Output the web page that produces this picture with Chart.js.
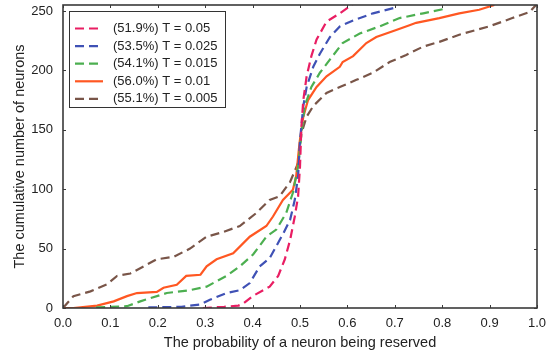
<!DOCTYPE html>
<html lang="en">
<head>
<meta charset="UTF-8">
<title>Cumulative number of neurons</title>
<script src="https://cdn.jsdelivr.net/npm/chart.js"></script>
<style>
  html, body { margin: 0; padding: 0; background: #fff; }
  #wrap { width: 547px; height: 352px; position: relative; }
</style>
</head>
<body>
<div id="wrap"><canvas id="cdfChart"></canvas></div>
<script>
// series labels and colours
const seriesLabels = ['(51.9%) T = 0.05', '(53.5%) T = 0.025', '(54.1%) T = 0.015', '(56.0%) T = 0.01', '(55.1%) T = 0.005'];
const seriesColors = ['#e91e63', '#3f51b5', '#4caf50', '#ff5722', '#795548'];
const seriesDashed = [true, true, true, false, true];

// probability (x) and cumulative count (y)
const probT005 = [0.295, 0.34, 0.37, 0.38, 0.40, 0.436, 0.454, 0.468, 0.479, 0.489, 0.496, 0.50, 0.503, 0.507, 0.514, 0.524, 0.535, 0.556, 0.584, 0.612];
const countT005 = [0, 1, 2, 3.6, 10, 18, 27, 41, 57, 77, 94, 119, 153, 175, 195, 212, 226, 241, 248, 256];

const probT0025 = [0.18, 0.25, 0.29, 0.31, 0.345, 0.373, 0.394, 0.415, 0.436, 0.45, 0.465, 0.479, 0.489, 0.496, 0.50, 0.507, 0.514, 0.528, 0.542, 0.563, 0.584, 0.612, 0.654, 0.703];
const countT0025 = [0.5, 1, 3, 7, 12.6, 15, 21, 35, 42, 52, 63, 74, 91, 111, 141, 170, 186, 203, 214, 228, 237, 242, 248, 253];

const probT0015 = [0.07, 0.135, 0.163, 0.219, 0.268, 0.303, 0.345, 0.373, 0.401, 0.429, 0.45, 0.471, 0.485, 0.496, 0.503, 0.51, 0.524, 0.542, 0.563, 0.59, 0.626, 0.668, 0.71, 0.76, 0.808];
const countT0015 = [0.5, 1.5, 5.6, 12.6, 15, 18, 27, 35, 45, 60, 66, 80, 97, 119, 147, 170, 186, 198, 209, 223, 231, 237, 244, 248, 252];

const probT001 = [0.0, 0.022, 0.072, 0.107, 0.135, 0.156, 0.198, 0.212, 0.24, 0.26, 0.29, 0.303, 0.324, 0.359, 0.394, 0.429, 0.443, 0.464, 0.485, 0.492, 0.499, 0.507, 0.517, 0.535, 0.556, 0.584, 0.59, 0.612, 0.64, 0.661, 0.703, 0.731, 0.745, 0.794, 0.836, 0.878, 0.91];
const countT001 = [0, 0, 2, 5.6, 10, 12.6, 13.5, 17, 19.6, 27, 28, 35, 41, 46, 60, 69, 77, 91, 99.5, 111, 139, 161, 175, 186, 195, 203, 207, 212, 223, 228, 234, 238, 240, 244, 248, 251, 255];

const probT0005 = [0.0, 0.022, 0.058, 0.093, 0.114, 0.142, 0.17, 0.198, 0.233, 0.268, 0.303, 0.338, 0.373, 0.408, 0.436, 0.457, 0.479, 0.496, 0.503, 0.514, 0.528, 0.556, 0.584, 0.619, 0.654, 0.689, 0.724, 0.76, 0.794, 0.836, 0.899, 0.948, 0.984, 0.998];
const countT0005 = [0, 10, 14, 20, 27, 29, 35, 41, 43, 50, 60, 64, 69, 80, 91, 94, 106, 122, 147, 161, 170, 181, 186, 192, 198, 207, 213, 220, 224, 230, 237, 244, 249, 255];

// axis ticks
const xTicks = [0.0, 0.1, 0.2, 0.3, 0.4, 0.5, 0.6, 0.7, 0.8, 0.9, 1.0];
const yTicks = [0, 50, 100, 150, 200, 250];

const probs = [probT005, probT0025, probT0015, probT001, probT0005];
const counts = [countT005, countT0025, countT0015, countT001, countT0005];

const FONT = '"Liberation Sans", Arial, sans-serif';
const FRAME = '#3a3a3a';

const datasets = seriesLabels.map((label, i) => ({
  label: label,
  data: probs[i].map((p, j) => ({ x: p, y: counts[i][j] })),
  borderColor: seriesColors[i],
  borderWidth: 2.2,
  borderDash: seriesDashed[i] ? [9, 5] : [],
  pointRadius: 0,
  tension: 0,
  fill: false
}));

// frame, inward ticks and boxed legend
const framePlugin = {
  id: 'framePlugin',
  afterDraw(chart) {
    const { ctx, chartArea: a, scales } = chart;
    ctx.save();
    ctx.strokeStyle = FRAME;
    ctx.lineWidth = 1;
    xTicks.forEach(v => {
      const px = Math.round(scales.x.getPixelForValue(v)) + 0.5;
      ctx.beginPath();
      ctx.moveTo(px, a.top); ctx.lineTo(px, a.top + 3);
      ctx.moveTo(px, a.bottom); ctx.lineTo(px, a.bottom - 3);
      ctx.stroke();
    });
    yTicks.forEach(v => {
      const py = Math.round(scales.y.getPixelForValue(v)) + 0.5;
      ctx.beginPath();
      ctx.moveTo(a.left, py); ctx.lineTo(a.left + 3, py);
      ctx.moveTo(a.right, py); ctx.lineTo(a.right - 3, py);
      ctx.stroke();
    });
    ctx.lineWidth = 1.6;
    ctx.strokeRect(a.left, a.top, a.right - a.left, a.bottom - a.top);

    // legend
    const lx = a.left + 6, ly = a.top + 6, lw = 156, lh = 96;
    ctx.fillStyle = '#fff';
    ctx.fillRect(lx, ly, lw, lh);
    ctx.strokeStyle = '#333';
    ctx.lineWidth = 1;
    ctx.strokeRect(lx + 0.5, ly + 0.5, lw, lh);
    ctx.font = '13px ' + FONT;
    ctx.textBaseline = 'middle';
    chart.data.datasets.forEach((ds, i) => {
      const y = ly + 17.5 + i * 17.6;
      ctx.beginPath();
      ctx.strokeStyle = ds.borderColor;
      ctx.lineWidth = 2.2;
      ctx.setLineDash(ds.borderDash);
      ctx.moveTo(lx + 6, y);
      ctx.lineTo(lx + 34, y);
      ctx.stroke();
      ctx.setLineDash([]);
      ctx.fillStyle = '#222';
      ctx.fillText(ds.label, lx + 44, y);
    });
    ctx.restore();
  }
};

const ctx = document.getElementById('cdfChart').getContext('2d');
new Chart(ctx, {
  type: 'line',
  data: { datasets: datasets },
  options: {
    responsive: true,
    maintainAspectRatio: false,
    animation: false,
    layout: { padding: { left: 11, top: 5, right: 10, bottom: 0 } },
    plugins: { legend: { display: false }, tooltip: { enabled: false } },
    scales: {
      x: {
        type: 'linear',
        min: 0, max: 1,
        afterBuildTicks: s => { s.ticks = xTicks.map(v => ({ value: v })); },
        afterFit: s => {
          s.height = 44;
          s.paddingLeft = 0; s.paddingRight = 0;
        },
        grid: { display: false, drawTicks: false },
        border: { display: false },
        ticks: {
          padding: 8,
          color: '#222',
          font: { family: FONT, size: 13 },
          callback: v => v.toFixed(1)
        },
        title: {
          display: true,
          text: 'The probability of a neuron being reserved',
          color: '#222',
          font: { family: FONT, size: 14.5 },
          padding: { top: 2, bottom: 0 }
        }
      },
      y: {
        min: 0, max: 255,
        afterBuildTicks: s => { s.ticks = yTicks.map(v => ({ value: v })); },
        afterFit: s => {
          s.width = 52;
          s.paddingTop = 0; s.paddingBottom = 0;
        },
        grid: { display: false, drawTicks: false },
        border: { display: false },
        ticks: {
          padding: 10,
          color: '#222',
          font: { family: FONT, size: 13 }
        },
        title: {
          display: true,
          text: 'The cumulative number of neurons',
          color: '#222',
          font: { family: FONT, size: 14.5 },
          padding: { top: 0, bottom: 2 }
        }
      }
    }
  },
  plugins: [framePlugin]
});
</script>
</body>
</html>
